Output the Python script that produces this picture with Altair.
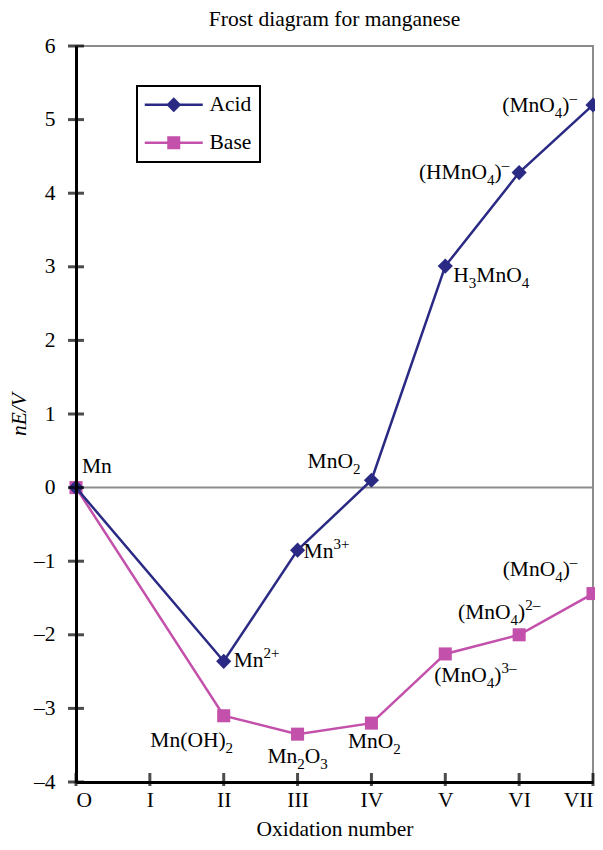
import re
import altair as alt
import pandas as pd

# ---- data ----
ox = [0, 2, 3, 4, 5, 6, 7]
acid_vals = [0.0, -2.36, -0.85, 0.10, 3.01, 4.28, 5.20]
base_vals = [0.0, -3.10, -3.35, -3.20, -2.26, -2.00, -1.44]
# "_{..}" = subscript, "^{..}" = superscript
acid_labels = ["Mn", "Mn^{2+}", "Mn^{3+}", "MnO_{2}", "H_{3}MnO_{4}", "(HMnO_{4})^{–}", "(MnO_{4})^{–}"]
base_labels = ["", "Mn(OH)_{2}", "Mn_{2}O_{3}", "MnO_{2}", "(MnO_{4})^{3–}", "(MnO_{4})^{2–}", "(MnO_{4})^{–}"]
roman = ["O", "I", "II", "III", "IV", "V", "VI", "VII"]
y_ticks = list(range(-4, 7))
x_ticks = list(range(0, 8))
series = ["Acid", "Base"]

ACID = "#2a2a85"
BASE = "#c350aa"
FONT = "Liberation Serif"
FS = 21.5
FS_SMALL = 15

zero_df = pd.DataFrame({"y": [0]})
ytick_df = pd.DataFrame({"x": [0] * len(y_ticks), "y": y_ticks})
xtick_df = pd.DataFrame({"x": x_ticks, "y": [-4] * len(x_ticks)})
legend_df = pd.DataFrame({"x": [0, 0], "y": [0, 0], "series": series})
acid_df = pd.DataFrame({"x": ox, "y": acid_vals})
base_df = pd.DataFrame({"x": ox, "y": base_vals})

roman_expr = "[" + ",".join("'%s'" % r for r in roman) + "][datum.value]"

X = alt.X(
    "x:Q",
    scale=alt.Scale(domain=[0, 7], nice=False, zero=False),
    axis=alt.Axis(
        values=x_ticks, labelExpr=roman_expr, ticks=False, tickSize=0, grid=False,
        domainColor="black", domainWidth=3, labelFont=FONT, labelFontSize=FS,
        labelColor="black", labelPadding=7, title="Oxidation number",
        titleFont=FONT, titleFontSize=FS, titleFontWeight="normal",
        titleColor="black", titlePadding=8, zindex=2,
    ),
)
Y = alt.Y(
    "y:Q",
    scale=alt.Scale(domain=[-4, 6], nice=False, zero=False),
    axis=alt.Axis(
        values=y_ticks,
        labelExpr="datum.value < 0 ? '–' + abs(datum.value) : '' + datum.value",
        ticks=False, tickSize=0, grid=False, domainColor="black", domainWidth=3,
        labelFont=FONT, labelFontSize=FS, labelColor="black", labelPadding=21,
        title="nE/V", titleFont=FONT, titleFontSize=FS, titleFontWeight="normal",
        titleFontStyle="italic", titleColor="black", titlePadding=3, zindex=2,
    ),
)

zero = alt.Chart(zero_df).mark_rule(color="#8c8c8c", strokeWidth=2).encode(y=Y)
yticks = alt.Chart(ytick_df).mark_tick(
    orient="horizontal", size=16, thickness=3, color="black"
).encode(x=X, y=Y)
xticks = alt.Chart(xtick_df).mark_tick(
    orient="vertical", size=13, thickness=3, color="black", yOffset=-2.5
).encode(x=X, y=Y)

base_line = alt.Chart(base_df).mark_line(color=BASE, strokeWidth=2.5).encode(x=X, y=Y)
base_pts = alt.Chart(base_df).mark_point(
    shape="square", filled=True, size=170, color=BASE, opacity=1
).encode(x=X, y=Y)
acid_line = alt.Chart(acid_df).mark_line(color=ACID, strokeWidth=2.5).encode(x=X, y=Y)
acid_pts = alt.Chart(acid_df).mark_point(
    shape="diamond", filled=True, size=230, color=ACID, opacity=1
).encode(x=X, y=Y)

# legend symbols: line segment + marker
acid_sym = "M-2.9,-0.13L2.9,-0.13L2.9,0.13L-2.9,0.13Z M0,-0.75L0.75,0L0,0.75L-0.75,0Z"
base_sym = "M-2.9,-0.13L2.9,-0.13L2.9,0.13L-2.9,0.13Z M-0.65,-0.65L0.65,-0.65L0.65,0.65L-0.65,0.65Z"

leg = alt.Legend(
    title=None, orient="none", legendX=61, legendY=40, padding=8,
    symbolSize=400, symbolOffset=18, labelOffset=25, rowPadding=15,
    labelFont=FONT, labelFontSize=FS, labelColor="black",
    strokeColor="black", fillColor="white", symbolOpacity=1,
    symbolStrokeWidth=0,
)

legend_layer = alt.Chart(legend_df).mark_point(filled=True, size=0, opacity=1).encode(
    x=X, y=Y,
    color=alt.Color("series:N", scale=alt.Scale(domain=series, range=[ACID, BASE]), legend=leg),
    shape=alt.Shape("series:N", scale=alt.Scale(domain=series, range=[acid_sym, base_sym]), legend=leg),
)

# ---- data labels with sub/superscripts (offsets are label styling) ----
CHAR_W = {"M": .889, "n": .5, "O": .722, "H": .722, "(": .333, ")": .333,
          "+": .564, "–": .5, " ": .25}


def parse(markup):
    segs = []
    for m in re.finditer(r"([_^])\{([^}]*)\}|([^_^]+)", markup):
        if m.group(3):
            segs.append((m.group(3), "n"))
        else:
            segs.append((m.group(2), "sub" if m.group(1) == "_" else "sup"))
    return segs


def seg_size(kind):
    return FS if kind == "n" else FS_SMALL


def seg_w(text, kind):
    return sum(CHAR_W.get(c, .5) for c in text) * seg_size(kind)


SHIFT = {"n": 0, "sub": 7, "sup": -8}

acid_style = [
    dict(align="left", dx=6, dy=-21),
    dict(align="left", dx=10, dy=0),
    dict(align="left", dx=6, dy=2),
    dict(align="right", dx=-11, dy=-18),
    dict(align="left", dx=8, dy=10),
    dict(align="right", dx=-10, dy=0),
    dict(align="right", dx=-16, dy=1),
]
base_style = [
    None,
    dict(align="center", dx=-32, dy=25),
    dict(align="center", dx=0, dy=23),
    dict(align="center", dx=3, dy=19),
    dict(align="center", dx=30, dy=22),
    dict(align="center", dx=-20, dy=-22),
    dict(align="center", dx=-53, dy=-24),
]

text_layers = []
for xs, ys, labels, styles in ((ox, acid_vals, acid_labels, acid_style),
                               (ox, base_vals, base_labels, base_style)):
    for i, st in enumerate(styles):
        if st is None or not labels[i]:
            continue
        segs = parse(labels[i])
        total = sum(seg_w(t, k) for t, k in segs)
        if st["align"] == "left":
            start = st["dx"]
        elif st["align"] == "right":
            start = st["dx"] - total
        else:
            start = st["dx"] - total / 2
        acc = 0.0
        for t, k in segs:
            seg_df = pd.DataFrame({"x": [xs[i]], "y": [ys[i]], "label": [t]})
            text_layers.append(
                alt.Chart(seg_df).mark_text(
                    font=FONT, fontSize=seg_size(k), color="black", align="left",
                    baseline="middle", dx=start + acc, dy=st["dy"] + SHIFT[k],
                ).encode(x=X, y=Y, text="label:N")
            )
            acc += seg_w(t, k)

chart = alt.layer(
    zero, base_line, base_pts, acid_line, acid_pts, legend_layer, yticks, xticks, *text_layers
).properties(
    width=517, height=736,
    autosize=alt.AutoSizeParams(type="none"),
    padding={"left": 68, "top": 38, "right": 2, "bottom": 58},
    title=alt.Title("Frost diagram for manganese", font=FONT, fontSize=FS,
                    fontWeight="normal", color="black", offset=5, anchor="middle"),
).configure_view(
    stroke="#8c8c8c", strokeWidth=2
).configure_legend(
    strokeWidth=2
)

chart.save("out.html", embed_options={"renderer": "svg", "actions": False})
